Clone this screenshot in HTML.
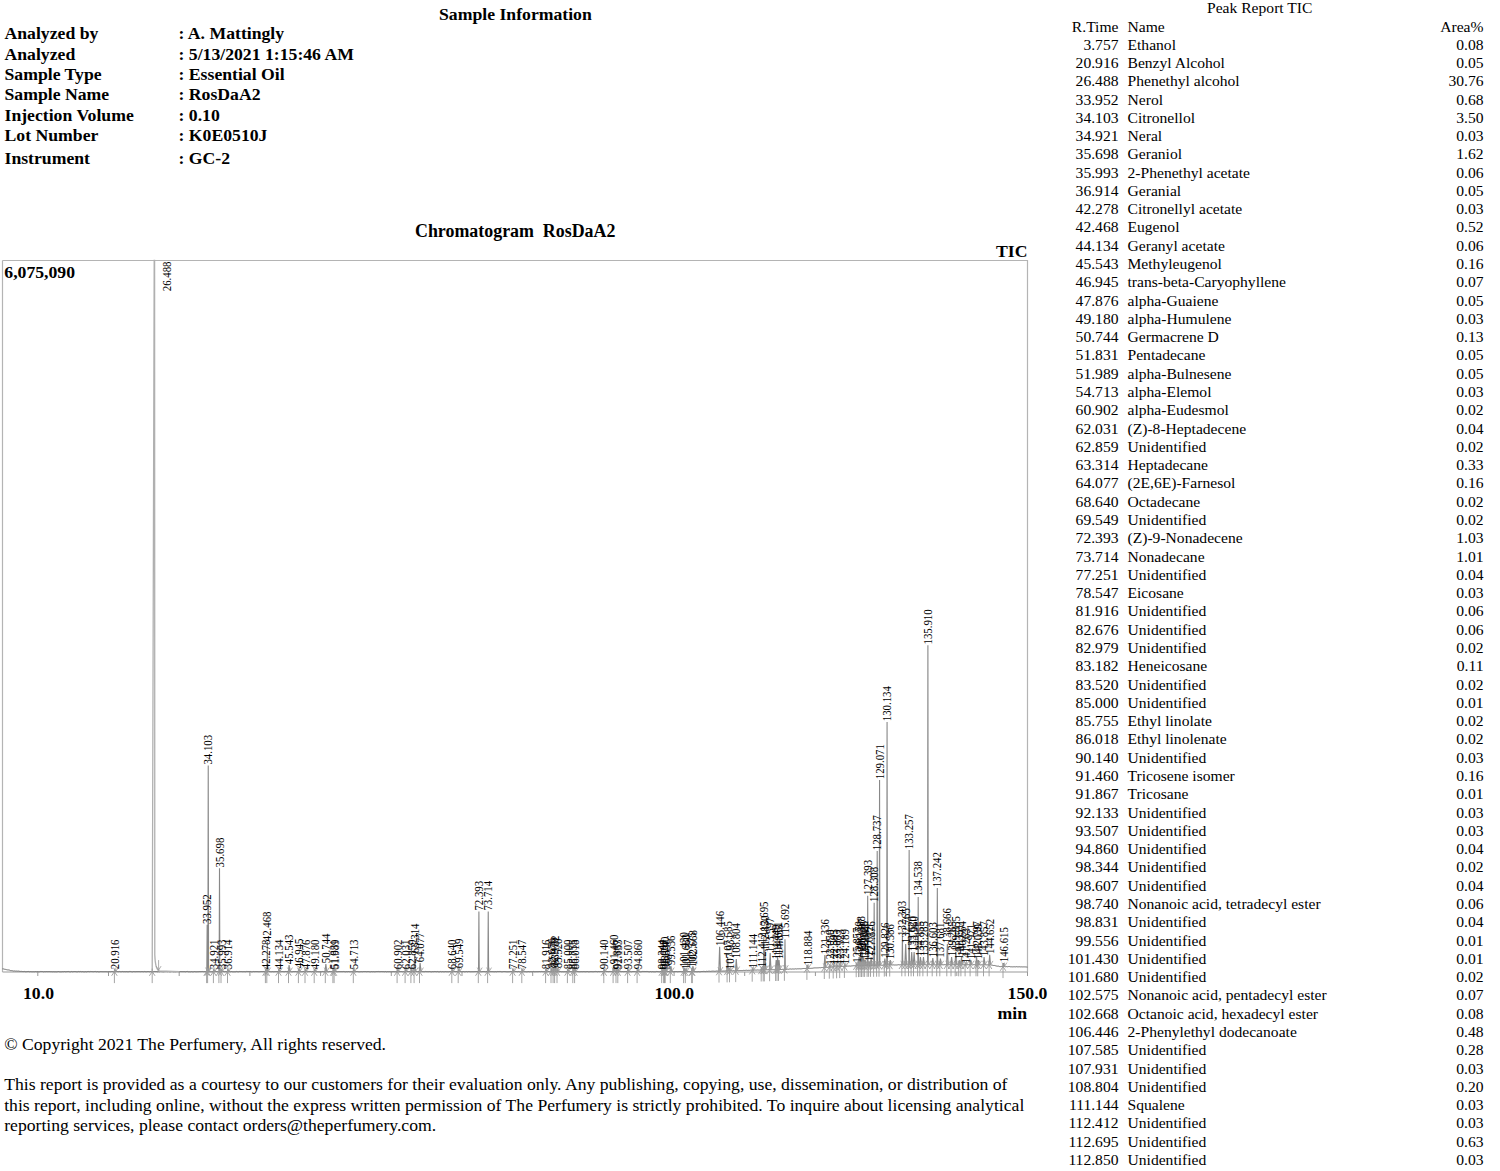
<!DOCTYPE html>
<html><head><meta charset="utf-8"><title>Report</title><style>
html,body{margin:0;padding:0;background:#fff;width:1500px;height:1171px;overflow:hidden}
svg{display:block}
.b{font-family:"Liberation Serif",serif;font-weight:bold;fill:#000}
.r{font-family:"Liberation Serif",serif;fill:#000}
.lb{font-family:"Liberation Serif",serif;font-size:12.0px;fill:#000;}
</style></head><body>
<svg width="1500" height="1171" viewBox="0 0 1500 1171">
<g class="b" font-size="17.7">
<text x="439" y="19.7">Sample Information</text>
<text x="4.5" y="39.3">Analyzed by</text>
<text x="178.5" y="39.3">: A. Mattingly</text>
<text x="4.5" y="59.7">Analyzed</text>
<text x="178.5" y="59.7">: 5/13/2021 1:15:46 AM</text>
<text x="4.5" y="80.0">Sample Type</text>
<text x="178.5" y="80.0">: Essential Oil</text>
<text x="4.5" y="100.4">Sample Name</text>
<text x="178.5" y="100.4">: RosDaA2</text>
<text x="4.5" y="120.7">Injection Volume</text>
<text x="178.5" y="120.7">: 0.10</text>
<text x="4.5" y="141.0">Lot Number</text>
<text x="178.5" y="141.0">: K0E0510J</text>
<text x="4.5" y="164.0">Instrument</text>
<text x="178.5" y="164.0">: GC-2</text>
</g>
<g class="r" font-size="15.6">
<text x="1207" y="13.3">Peak Report TIC</text>
<text x="1118.5" y="31.6" text-anchor="end">R.Time</text>
<text x="1127.5" y="31.6">Name</text>
<text x="1483.5" y="31.6" text-anchor="end">Area%</text>
<text x="1118.5" y="49.6" text-anchor="end">3.757</text>
<text x="1127.5" y="49.6">Ethanol</text>
<text x="1483.5" y="49.6" text-anchor="end">0.08</text>
<text x="1118.5" y="67.9" text-anchor="end">20.916</text>
<text x="1127.5" y="67.9">Benzyl Alcohol</text>
<text x="1483.5" y="67.9" text-anchor="end">0.05</text>
<text x="1118.5" y="86.2" text-anchor="end">26.488</text>
<text x="1127.5" y="86.2">Phenethyl alcohol</text>
<text x="1483.5" y="86.2" text-anchor="end">30.76</text>
<text x="1118.5" y="104.5" text-anchor="end">33.952</text>
<text x="1127.5" y="104.5">Nerol</text>
<text x="1483.5" y="104.5" text-anchor="end">0.68</text>
<text x="1118.5" y="122.7" text-anchor="end">34.103</text>
<text x="1127.5" y="122.7">Citronellol</text>
<text x="1483.5" y="122.7" text-anchor="end">3.50</text>
<text x="1118.5" y="141.0" text-anchor="end">34.921</text>
<text x="1127.5" y="141.0">Neral</text>
<text x="1483.5" y="141.0" text-anchor="end">0.03</text>
<text x="1118.5" y="159.3" text-anchor="end">35.698</text>
<text x="1127.5" y="159.3">Geraniol</text>
<text x="1483.5" y="159.3" text-anchor="end">1.62</text>
<text x="1118.5" y="177.6" text-anchor="end">35.993</text>
<text x="1127.5" y="177.6">2-Phenethyl acetate</text>
<text x="1483.5" y="177.6" text-anchor="end">0.06</text>
<text x="1118.5" y="195.9" text-anchor="end">36.914</text>
<text x="1127.5" y="195.9">Geranial</text>
<text x="1483.5" y="195.9" text-anchor="end">0.05</text>
<text x="1118.5" y="214.2" text-anchor="end">42.278</text>
<text x="1127.5" y="214.2">Citronellyl acetate</text>
<text x="1483.5" y="214.2" text-anchor="end">0.03</text>
<text x="1118.5" y="232.4" text-anchor="end">42.468</text>
<text x="1127.5" y="232.4">Eugenol</text>
<text x="1483.5" y="232.4" text-anchor="end">0.52</text>
<text x="1118.5" y="250.7" text-anchor="end">44.134</text>
<text x="1127.5" y="250.7">Geranyl acetate</text>
<text x="1483.5" y="250.7" text-anchor="end">0.06</text>
<text x="1118.5" y="269.0" text-anchor="end">45.543</text>
<text x="1127.5" y="269.0">Methyleugenol</text>
<text x="1483.5" y="269.0" text-anchor="end">0.16</text>
<text x="1118.5" y="287.3" text-anchor="end">46.945</text>
<text x="1127.5" y="287.3">trans-beta-Caryophyllene</text>
<text x="1483.5" y="287.3" text-anchor="end">0.07</text>
<text x="1118.5" y="305.6" text-anchor="end">47.876</text>
<text x="1127.5" y="305.6">alpha-Guaiene</text>
<text x="1483.5" y="305.6" text-anchor="end">0.05</text>
<text x="1118.5" y="323.9" text-anchor="end">49.180</text>
<text x="1127.5" y="323.9">alpha-Humulene</text>
<text x="1483.5" y="323.9" text-anchor="end">0.03</text>
<text x="1118.5" y="342.2" text-anchor="end">50.744</text>
<text x="1127.5" y="342.2">Germacrene D</text>
<text x="1483.5" y="342.2" text-anchor="end">0.13</text>
<text x="1118.5" y="360.4" text-anchor="end">51.831</text>
<text x="1127.5" y="360.4">Pentadecane</text>
<text x="1483.5" y="360.4" text-anchor="end">0.05</text>
<text x="1118.5" y="378.7" text-anchor="end">51.989</text>
<text x="1127.5" y="378.7">alpha-Bulnesene</text>
<text x="1483.5" y="378.7" text-anchor="end">0.05</text>
<text x="1118.5" y="397.0" text-anchor="end">54.713</text>
<text x="1127.5" y="397.0">alpha-Elemol</text>
<text x="1483.5" y="397.0" text-anchor="end">0.03</text>
<text x="1118.5" y="415.3" text-anchor="end">60.902</text>
<text x="1127.5" y="415.3">alpha-Eudesmol</text>
<text x="1483.5" y="415.3" text-anchor="end">0.02</text>
<text x="1118.5" y="433.6" text-anchor="end">62.031</text>
<text x="1127.5" y="433.6">(Z)-8-Heptadecene</text>
<text x="1483.5" y="433.6" text-anchor="end">0.04</text>
<text x="1118.5" y="451.9" text-anchor="end">62.859</text>
<text x="1127.5" y="451.9">Unidentified</text>
<text x="1483.5" y="451.9" text-anchor="end">0.02</text>
<text x="1118.5" y="470.2" text-anchor="end">63.314</text>
<text x="1127.5" y="470.2">Heptadecane</text>
<text x="1483.5" y="470.2" text-anchor="end">0.33</text>
<text x="1118.5" y="488.4" text-anchor="end">64.077</text>
<text x="1127.5" y="488.4">(2E,6E)-Farnesol</text>
<text x="1483.5" y="488.4" text-anchor="end">0.16</text>
<text x="1118.5" y="506.7" text-anchor="end">68.640</text>
<text x="1127.5" y="506.7">Octadecane</text>
<text x="1483.5" y="506.7" text-anchor="end">0.02</text>
<text x="1118.5" y="525.0" text-anchor="end">69.549</text>
<text x="1127.5" y="525.0">Unidentified</text>
<text x="1483.5" y="525.0" text-anchor="end">0.02</text>
<text x="1118.5" y="543.3" text-anchor="end">72.393</text>
<text x="1127.5" y="543.3">(Z)-9-Nonadecene</text>
<text x="1483.5" y="543.3" text-anchor="end">1.03</text>
<text x="1118.5" y="561.6" text-anchor="end">73.714</text>
<text x="1127.5" y="561.6">Nonadecane</text>
<text x="1483.5" y="561.6" text-anchor="end">1.01</text>
<text x="1118.5" y="579.9" text-anchor="end">77.251</text>
<text x="1127.5" y="579.9">Unidentified</text>
<text x="1483.5" y="579.9" text-anchor="end">0.04</text>
<text x="1118.5" y="598.1" text-anchor="end">78.547</text>
<text x="1127.5" y="598.1">Eicosane</text>
<text x="1483.5" y="598.1" text-anchor="end">0.03</text>
<text x="1118.5" y="616.4" text-anchor="end">81.916</text>
<text x="1127.5" y="616.4">Unidentified</text>
<text x="1483.5" y="616.4" text-anchor="end">0.06</text>
<text x="1118.5" y="634.7" text-anchor="end">82.676</text>
<text x="1127.5" y="634.7">Unidentified</text>
<text x="1483.5" y="634.7" text-anchor="end">0.06</text>
<text x="1118.5" y="653.0" text-anchor="end">82.979</text>
<text x="1127.5" y="653.0">Unidentified</text>
<text x="1483.5" y="653.0" text-anchor="end">0.02</text>
<text x="1118.5" y="671.3" text-anchor="end">83.182</text>
<text x="1127.5" y="671.3">Heneicosane</text>
<text x="1483.5" y="671.3" text-anchor="end">0.11</text>
<text x="1118.5" y="689.6" text-anchor="end">83.520</text>
<text x="1127.5" y="689.6">Unidentified</text>
<text x="1483.5" y="689.6" text-anchor="end">0.02</text>
<text x="1118.5" y="707.9" text-anchor="end">85.000</text>
<text x="1127.5" y="707.9">Unidentified</text>
<text x="1483.5" y="707.9" text-anchor="end">0.01</text>
<text x="1118.5" y="726.1" text-anchor="end">85.755</text>
<text x="1127.5" y="726.1">Ethyl linolate</text>
<text x="1483.5" y="726.1" text-anchor="end">0.02</text>
<text x="1118.5" y="744.4" text-anchor="end">86.018</text>
<text x="1127.5" y="744.4">Ethyl linolenate</text>
<text x="1483.5" y="744.4" text-anchor="end">0.02</text>
<text x="1118.5" y="762.7" text-anchor="end">90.140</text>
<text x="1127.5" y="762.7">Unidentified</text>
<text x="1483.5" y="762.7" text-anchor="end">0.03</text>
<text x="1118.5" y="781.0" text-anchor="end">91.460</text>
<text x="1127.5" y="781.0">Tricosene isomer</text>
<text x="1483.5" y="781.0" text-anchor="end">0.16</text>
<text x="1118.5" y="799.3" text-anchor="end">91.867</text>
<text x="1127.5" y="799.3">Tricosane</text>
<text x="1483.5" y="799.3" text-anchor="end">0.01</text>
<text x="1118.5" y="817.6" text-anchor="end">92.133</text>
<text x="1127.5" y="817.6">Unidentified</text>
<text x="1483.5" y="817.6" text-anchor="end">0.03</text>
<text x="1118.5" y="835.9" text-anchor="end">93.507</text>
<text x="1127.5" y="835.9">Unidentified</text>
<text x="1483.5" y="835.9" text-anchor="end">0.03</text>
<text x="1118.5" y="854.1" text-anchor="end">94.860</text>
<text x="1127.5" y="854.1">Unidentified</text>
<text x="1483.5" y="854.1" text-anchor="end">0.04</text>
<text x="1118.5" y="872.4" text-anchor="end">98.344</text>
<text x="1127.5" y="872.4">Unidentified</text>
<text x="1483.5" y="872.4" text-anchor="end">0.02</text>
<text x="1118.5" y="890.7" text-anchor="end">98.607</text>
<text x="1127.5" y="890.7">Unidentified</text>
<text x="1483.5" y="890.7" text-anchor="end">0.04</text>
<text x="1118.5" y="909.0" text-anchor="end">98.740</text>
<text x="1127.5" y="909.0">Nonanoic acid, tetradecyl ester</text>
<text x="1483.5" y="909.0" text-anchor="end">0.06</text>
<text x="1118.5" y="927.3" text-anchor="end">98.831</text>
<text x="1127.5" y="927.3">Unidentified</text>
<text x="1483.5" y="927.3" text-anchor="end">0.04</text>
<text x="1118.5" y="945.6" text-anchor="end">99.556</text>
<text x="1127.5" y="945.6">Unidentified</text>
<text x="1483.5" y="945.6" text-anchor="end">0.01</text>
<text x="1118.5" y="963.9" text-anchor="end">101.430</text>
<text x="1127.5" y="963.9">Unidentified</text>
<text x="1483.5" y="963.9" text-anchor="end">0.01</text>
<text x="1118.5" y="982.1" text-anchor="end">101.680</text>
<text x="1127.5" y="982.1">Unidentified</text>
<text x="1483.5" y="982.1" text-anchor="end">0.02</text>
<text x="1118.5" y="1000.4" text-anchor="end">102.575</text>
<text x="1127.5" y="1000.4">Nonanoic acid, pentadecyl ester</text>
<text x="1483.5" y="1000.4" text-anchor="end">0.07</text>
<text x="1118.5" y="1018.7" text-anchor="end">102.668</text>
<text x="1127.5" y="1018.7">Octanoic acid, hexadecyl ester</text>
<text x="1483.5" y="1018.7" text-anchor="end">0.08</text>
<text x="1118.5" y="1037.0" text-anchor="end">106.446</text>
<text x="1127.5" y="1037.0">2-Phenylethyl dodecanoate</text>
<text x="1483.5" y="1037.0" text-anchor="end">0.48</text>
<text x="1118.5" y="1055.3" text-anchor="end">107.585</text>
<text x="1127.5" y="1055.3">Unidentified</text>
<text x="1483.5" y="1055.3" text-anchor="end">0.28</text>
<text x="1118.5" y="1073.6" text-anchor="end">107.931</text>
<text x="1127.5" y="1073.6">Unidentified</text>
<text x="1483.5" y="1073.6" text-anchor="end">0.03</text>
<text x="1118.5" y="1091.8" text-anchor="end">108.804</text>
<text x="1127.5" y="1091.8">Unidentified</text>
<text x="1483.5" y="1091.8" text-anchor="end">0.20</text>
<text x="1118.5" y="1110.1" text-anchor="end">111.144</text>
<text x="1127.5" y="1110.1">Squalene</text>
<text x="1483.5" y="1110.1" text-anchor="end">0.03</text>
<text x="1118.5" y="1128.4" text-anchor="end">112.412</text>
<text x="1127.5" y="1128.4">Unidentified</text>
<text x="1483.5" y="1128.4" text-anchor="end">0.03</text>
<text x="1118.5" y="1146.7" text-anchor="end">112.695</text>
<text x="1127.5" y="1146.7">Unidentified</text>
<text x="1483.5" y="1146.7" text-anchor="end">0.63</text>
<text x="1118.5" y="1165.0" text-anchor="end">112.850</text>
<text x="1127.5" y="1165.0">Unidentified</text>
<text x="1483.5" y="1165.0" text-anchor="end">0.03</text>
</g>
<g class="b" font-size="17.7">
<text x="415" y="236.7" font-size="17.9" style="white-space:pre">Chromatogram  RosDaA2</text>
<text x="996" y="257">TIC</text>
<text x="4.3" y="278.3">6,075,090</text>
<text x="38.5" y="998.7" text-anchor="middle">10.0</text>
<text x="674.3" y="998.7" text-anchor="middle">100.0</text>
<text x="1027.5" y="998.7" text-anchor="middle">150.0</text>
<text x="1027" y="1018.7" text-anchor="end">min</text>
</g>
<g class="r" font-size="17.65">
<text x="4.2" y="1050">© Copyright 2021 The Perfumery, All rights reserved.</text>
<text x="4.2" y="1090">This report is provided as a courtesy to our customers for their evaluation only. Any publishing, copying, use, dissemination, or distribution of</text>
<text x="4.2" y="1110.6">this report, including online, without the express written permission of The Perfumery is strictly prohibited. To inquire about licensing analytical</text>
<text x="4.2" y="1130.8">reporting services, please contact orders@theperfumery.com.</text>
</g>
<path d="M2.5 972.0 V260.5 M2.5 260.5 H1027.5 V972.0" fill="none" stroke="#b4b4b4" stroke-width="1.2"/>
<path d="M2.5 972.0 H1027.5" stroke="#9a9a9a" stroke-width="1.2"/>
<path d="M37.8 972.0 V976.0 M108.5 972.0 V976.0 M179.2 972.0 V976.0 M249.9 972.0 V976.0 M320.6 972.0 V976.0 M391.3 972.0 V976.0 M462.0 972.0 V976.0 M532.7 972.0 V976.0 M603.4 972.0 V976.0 M674.1 972.0 V976.0 M744.7 972.0 V976.0 M815.4 972.0 V976.0 M886.1 972.0 V976.0 M956.8 972.0 V976.0 M1027.5 972.0 V976.0" stroke="#999" stroke-width="1"/>
<path d="M2.5 968.80 L3.5 968.93 L4.5 969.23 L5.5 969.39 L6.5 969.67 L7.5 969.89 L8.5 969.93 L9.5 970.13 L10.5 970.59 L11.5 970.62 L12.5 970.75 L13.5 971.04 L14.5 970.94 L15.5 971.12 L16.5 971.07 L17.5 971.18 L18.5 971.10 L19.5 971.30 L20.5 971.43 L21.5 971.39 L22.5 971.52 L23.5 971.56 L24.5 971.44 L25.5 971.68 L26.5 971.63 L27.5 971.54 L28.5 971.46 L29.5 971.71 L30.5 971.59 L31.5 971.67 L32.5 971.71 L33.5 971.66 L34.5 971.73 L35.5 971.57 L36.5 971.69 L37.5 971.58 L38.5 971.73 L39.5 971.71 L40.5 971.48 L41.5 971.49 L42.5 971.52 L43.5 971.74 L44.5 971.58 L45.5 971.64 L46.5 971.54 L47.5 971.60 L48.5 971.57 L49.5 971.56 L50.5 971.63 L51.5 971.63 L52.5 971.72 L53.5 971.65 L54.5 971.73 L55.5 971.71 L56.5 971.75 L57.5 971.65 L58.5 971.50 L59.5 971.71 L60.5 971.74 L61.5 971.72 L62.5 971.62 L63.5 971.66 L64.5 971.51 L65.5 971.70 L66.5 971.62 L67.5 971.54 L68.5 971.47 L69.5 971.71 L70.5 971.75 L71.5 971.48 L72.5 971.69 L73.5 971.57 L74.5 971.50 L75.5 971.54 L76.5 971.68 L77.5 971.71 L78.5 971.46 L79.5 971.63 L80.5 971.46 L81.5 971.67 L82.5 971.55 L83.5 971.71 L84.5 971.74 L85.5 971.60 L86.5 971.75 L87.5 971.54 L88.5 971.47 L89.5 971.63 L90.5 971.46 L91.5 971.51 L92.5 971.57 L93.5 971.63 L94.5 971.50 L95.5 971.46 L96.5 971.71 L97.5 971.54 L98.5 971.74 L99.5 971.72 L100.5 971.56 L101.5 971.59 L102.5 971.61 L103.5 971.64 L104.5 971.63 L105.5 971.62 L106.5 971.64 L107.5 971.73 L108.5 971.60 L109.5 971.58 L110.5 971.67 L111.5 971.52 L112.5 971.54 L113.5 971.74 L114.5 971.61 L115.5 971.61 L116.5 971.45 L117.5 971.57 L118.5 971.62 L119.5 971.46 L120.5 971.63 L121.5 971.64 L122.5 971.47 L123.5 971.64 L124.5 971.59 L125.5 971.65 L126.5 971.56 L127.5 971.66 L128.5 971.67 L129.5 971.46 L130.5 971.47 L131.5 971.65 L132.5 971.74 L133.5 971.53 L134.5 971.59 L135.5 971.63 L136.5 971.55 L137.5 971.56 L138.5 971.54 L139.5 971.56 L140.5 971.63 L141.5 971.54 L142.5 971.56 L143.5 971.68 L144.5 971.46 L145.5 971.62 L146.5 971.67 L147.5 971.54 L148.5 971.52 L149.5 971.69 L150.5 971.52 L151.5 971.51 L152.5 971.58 L153.5 971.66 L154.5 971.48 L155.5 971.55 L156.5 971.55 L157.5 971.70 L158.5 971.58 L159.5 971.71 L160.5 971.50 L161.5 971.55 L162.5 971.65 L163.5 971.72 L164.5 971.59 L165.5 971.52 L166.5 971.49 L167.5 971.61 L168.5 971.51 L169.5 971.69 L170.5 971.70 L171.5 971.51 L172.5 971.53 L173.5 971.69 L174.5 971.64 L175.5 971.69 L176.5 971.55 L177.5 971.49 L178.5 971.54 L179.5 971.69 L180.5 971.53 L181.5 971.55 L182.5 971.58 L183.5 971.58 L184.5 971.57 L185.5 971.73 L186.5 971.50 L187.5 971.45 L188.5 971.73 L189.5 971.71 L190.5 971.75 L191.5 971.58 L192.5 971.74 L193.5 971.73 L194.5 971.52 L195.5 971.67 L196.5 971.70 L197.5 971.65 L198.5 971.61 L199.5 971.54 L200.5 971.55 L201.5 971.52 L202.5 971.47 L203.5 971.63 L204.5 971.54 L205.5 971.69 L206.5 971.46 L207.5 971.72 L208.5 971.66 L209.5 971.73 L210.5 971.72 L211.5 971.72 L212.5 971.62 L213.5 971.45 L214.5 971.67 L215.5 971.50 L216.5 971.54 L217.5 971.65 L218.5 971.61 L219.5 971.57 L220.5 971.73 L221.5 971.63 L222.5 971.55 L223.5 971.53 L224.5 971.71 L225.5 971.59 L226.5 971.68 L227.5 971.56 L228.5 971.51 L229.5 971.61 L230.5 971.70 L231.5 971.50 L232.5 971.69 L233.5 971.73 L234.5 971.69 L235.5 971.70 L236.5 971.45 L237.5 971.64 L238.5 971.71 L239.5 971.46 L240.5 971.53 L241.5 971.53 L242.5 971.61 L243.5 971.58 L244.5 971.59 L245.5 971.68 L246.5 971.45 L247.5 971.47 L248.5 971.49 L249.5 971.49 L250.5 971.47 L251.5 971.74 L252.5 971.71 L253.5 971.48 L254.5 971.60 L255.5 971.54 L256.5 971.54 L257.5 971.56 L258.5 971.64 L259.5 971.63 L260.5 971.56 L261.5 971.51 L262.5 971.55 L263.5 971.49 L264.5 971.62 L265.5 971.66 L266.5 971.56 L267.5 971.47 L268.5 971.50 L269.5 971.56 L270.5 971.63 L271.5 971.68 L272.5 971.56 L273.5 971.69 L274.5 971.64 L275.5 971.58 L276.5 971.56 L277.5 971.60 L278.5 971.66 L279.5 971.58 L280.5 971.66 L281.5 971.59 L282.5 971.52 L283.5 971.61 L284.5 971.66 L285.5 971.47 L286.5 971.58 L287.5 971.58 L288.5 971.71 L289.5 971.73 L290.5 971.56 L291.5 971.72 L292.5 971.69 L293.5 971.53 L294.5 971.59 L295.5 971.49 L296.5 971.69 L297.5 971.65 L298.5 971.72 L299.5 971.69 L300.5 971.65 L301.5 971.67 L302.5 971.62 L303.5 971.48 L304.5 971.63 L305.5 971.45 L306.5 971.49 L307.5 971.68 L308.5 971.46 L309.5 971.48 L310.5 971.48 L311.5 971.71 L312.5 971.50 L313.5 971.46 L314.5 971.70 L315.5 971.49 L316.5 971.70 L317.5 971.65 L318.5 971.70 L319.5 971.74 L320.5 971.62 L321.5 971.69 L322.5 971.46 L323.5 971.68 L324.5 971.60 L325.5 971.66 L326.5 971.48 L327.5 971.67 L328.5 971.73 L329.5 971.47 L330.5 971.55 L331.5 971.62 L332.5 971.70 L333.5 971.52 L334.5 971.50 L335.5 971.52 L336.5 971.63 L337.5 971.68 L338.5 971.57 L339.5 971.56 L340.5 971.57 L341.5 971.56 L342.5 971.58 L343.5 971.47 L344.5 971.60 L345.5 971.74 L346.5 971.57 L347.5 971.67 L348.5 971.50 L349.5 971.66 L350.5 971.68 L351.5 971.65 L352.5 971.61 L353.5 971.60 L354.5 971.64 L355.5 971.72 L356.5 971.49 L357.5 971.48 L358.5 971.67 L359.5 971.72 L360.5 971.61 L361.5 971.58 L362.5 971.67 L363.5 971.51 L364.5 971.53 L365.5 971.51 L366.5 971.63 L367.5 971.54 L368.5 971.52 L369.5 971.66 L370.5 971.74 L371.5 971.54 L372.5 971.66 L373.5 971.57 L374.5 971.71 L375.5 971.63 L376.5 971.53 L377.5 971.52 L378.5 971.46 L379.5 971.59 L380.5 971.56 L381.5 971.50 L382.5 971.56 L383.5 971.55 L384.5 971.68 L385.5 971.49 L386.5 971.75 L387.5 971.59 L388.5 971.63 L389.5 971.59 L390.5 971.70 L391.5 971.70 L392.5 971.62 L393.5 971.59 L394.5 971.67 L395.5 971.71 L396.5 971.57 L397.5 971.67 L398.5 971.74 L399.5 971.59 L400.5 971.52 L401.5 971.52 L402.5 971.67 L403.5 971.65 L404.5 971.74 L405.5 971.71 L406.5 971.52 L407.5 971.51 L408.5 971.53 L409.5 971.51 L410.5 971.66 L411.5 971.71 L412.5 971.72 L413.5 971.53 L414.5 971.71 L415.5 971.54 L416.5 971.58 L417.5 971.67 L418.5 971.48 L419.5 971.48 L420.5 971.70 L421.5 971.54 L422.5 971.56 L423.5 971.62 L424.5 971.65 L425.5 971.45 L426.5 971.55 L427.5 971.58 L428.5 971.60 L429.5 971.51 L430.5 971.63 L431.5 971.74 L432.5 971.57 L433.5 971.61 L434.5 971.49 L435.5 971.53 L436.5 971.65 L437.5 971.48 L438.5 971.72 L439.5 971.72 L440.5 971.48 L441.5 971.73 L442.5 971.56 L443.5 971.68 L444.5 971.68 L445.5 971.54 L446.5 971.65 L447.5 971.65 L448.5 971.69 L449.5 971.53 L450.5 971.68 L451.5 971.74 L452.5 971.65 L453.5 971.61 L454.5 971.48 L455.5 971.60 L456.5 971.56 L457.5 971.67 L458.5 971.65 L459.5 971.62 L460.5 971.50 L461.5 971.64 L462.5 971.64 L463.5 971.50 L464.5 971.72 L465.5 971.65 L466.5 971.49 L467.5 971.73 L468.5 971.49 L469.5 971.55 L470.5 971.67 L471.5 971.63 L472.5 971.62 L473.5 971.64 L474.5 971.59 L475.5 971.54 L476.5 971.50 L477.5 971.47 L478.5 971.66 L479.5 971.68 L480.5 971.61 L481.5 971.67 L482.5 971.56 L483.5 971.53 L484.5 971.57 L485.5 971.71 L486.5 971.46 L487.5 971.60 L488.5 971.52 L489.5 971.68 L490.5 971.56 L491.5 971.55 L492.5 971.57 L493.5 971.61 L494.5 971.68 L495.5 971.56 L496.5 971.70 L497.5 971.48 L498.5 971.53 L499.5 971.48 L500.5 971.48 L501.5 971.68 L502.5 971.67 L503.5 971.51 L504.5 971.51 L505.5 971.57 L506.5 971.67 L507.5 971.69 L508.5 971.67 L509.5 971.63 L510.5 971.49 L511.5 971.57 L512.5 971.51 L513.5 971.61 L514.5 971.62 L515.5 971.51 L516.5 971.53 L517.5 971.68 L518.5 971.46 L519.5 971.69 L520.5 971.72 L521.5 971.73 L522.5 971.56 L523.5 971.62 L524.5 971.62 L525.5 971.64 L526.5 971.74 L527.5 971.66 L528.5 971.54 L529.5 971.71 L530.5 971.60 L531.5 971.63 L532.5 971.67 L533.5 971.45 L534.5 971.68 L535.5 971.65 L536.5 971.60 L537.5 971.61 L538.5 971.59 L539.5 971.51 L540.5 971.61 L541.5 971.46 L542.5 971.60 L543.5 971.64 L544.5 971.58 L545.5 971.62 L546.5 971.74 L547.5 971.72 L548.5 971.49 L549.5 971.69 L550.5 971.64 L551.5 971.47 L552.5 971.56 L553.5 971.52 L554.5 971.47 L555.5 971.61 L556.5 971.73 L557.5 971.55 L558.5 971.71 L559.5 971.66 L560.5 971.49 L561.5 971.71 L562.5 971.63 L563.5 971.73 L564.5 971.66 L565.5 971.67 L566.5 971.55 L567.5 971.69 L568.5 971.73 L569.5 971.71 L570.5 971.58 L571.5 971.68 L572.5 971.60 L573.5 971.48 L574.5 971.46 L575.5 971.47 L576.5 971.51 L577.5 971.50 L578.5 971.60 L579.5 971.66 L580.5 971.61 L581.5 971.58 L582.5 971.64 L583.5 971.54 L584.5 971.59 L585.5 971.68 L586.5 971.57 L587.5 971.50 L588.5 971.72 L589.5 971.67 L590.5 971.56 L591.5 971.56 L592.5 971.61 L593.5 971.63 L594.5 971.52 L595.5 971.45 L596.5 971.51 L597.5 971.68 L598.5 971.49 L599.5 971.59 L600.5 971.51 L601.5 971.51 L602.5 971.50 L603.5 971.57 L604.5 971.50 L605.5 971.46 L606.5 971.48 L607.5 971.50 L608.5 971.60 L609.5 971.47 L610.5 971.46 L611.5 971.58 L612.5 971.57 L613.5 971.66 L614.5 971.47 L615.5 971.57 L616.5 971.57 L617.5 971.46 L618.5 971.74 L619.5 971.52 L620.5 971.48 L621.5 971.59 L622.5 971.50 L623.5 971.64 L624.5 971.55 L625.5 971.49 L626.5 971.47 L627.5 971.67 L628.5 971.53 L629.5 971.69 L630.5 971.59 L631.5 971.73 L632.5 971.54 L633.5 971.52 L634.5 971.53 L635.5 971.69 L636.5 971.64 L637.5 971.55 L638.5 971.48 L639.5 971.65 L640.5 971.74 L641.5 971.63 L642.5 971.45 L643.5 971.46 L644.5 971.48 L645.5 971.50 L646.5 971.46 L647.5 971.47 L648.5 971.65 L649.5 971.72 L650.5 971.51 L651.5 971.74 L652.5 971.59 L653.5 971.69 L654.5 971.73 L655.5 971.73 L656.5 971.46 L657.5 971.54 L658.5 971.63 L659.5 971.73 L660.5 971.48 L661.5 971.54 L662.5 971.70 L663.5 971.48 L664.5 971.57 L665.5 971.55 L666.5 971.65 L667.5 971.73 L668.5 971.50 L669.5 971.67 L670.5 971.67 L671.5 971.70 L672.5 971.62 L673.5 971.73 L674.5 971.56 L675.5 971.57 L676.5 971.52 L677.5 971.68 L678.5 971.59 L679.5 971.53 L680.5 971.50 L681.5 971.67 L682.5 971.63 L683.5 971.66 L684.5 971.57 L685.5 971.60 L686.5 971.50 L687.5 971.66 L688.5 971.46 L689.5 971.59 L690.5 971.68 L691.5 971.65 L692.5 971.48 L693.5 971.52 L694.5 971.70 L695.5 971.64 L696.5 971.71 L697.5 971.71 L698.5 971.58 L699.5 971.72 L700.5 971.66 L701.5 971.51 L702.5 971.49 L703.5 971.38 L704.5 971.45 L705.5 971.59 L706.5 971.31 L707.5 971.42 L708.5 971.26 L709.5 971.22 L710.5 971.36 L711.5 971.22 L712.5 971.13 L713.5 971.14 L714.5 971.26 L715.5 971.21 L716.5 971.01 L717.5 971.05 L718.5 971.25 L719.5 971.00 L720.5 971.07 L721.5 971.00 L722.5 971.08 L723.5 971.00 L724.5 971.03 L725.5 970.93 L726.5 970.80 L727.5 970.77 L728.5 970.71 L729.5 970.91 L730.5 970.67 L731.5 970.62 L732.5 970.87 L733.5 970.62 L734.5 970.80 L735.5 970.53 L736.5 970.62 L737.5 970.52 L738.5 970.67 L739.5 970.58 L740.5 970.56 L741.5 970.57 L742.5 970.58 L743.5 970.39 L744.5 970.44 L745.5 970.37 L746.5 970.24 L747.5 970.43 L748.5 970.33 L749.5 970.37 L750.5 970.17 L751.5 970.24 L752.5 970.19 L753.5 970.24 L754.5 970.02 L755.5 970.07 L756.5 970.09 L757.5 969.94 L758.5 970.06 L759.5 970.08 L760.5 969.96 L761.5 970.00 L762.5 969.96 L763.5 969.81 L764.5 969.82 L765.5 969.98 L766.5 969.76 L767.5 969.75 L768.5 969.62 L769.5 969.63 L770.5 969.58 L771.5 969.78 L772.5 969.69 L773.5 969.71 L774.5 969.71 L775.5 969.57 L776.5 969.63 L777.5 969.49 L778.5 969.42 L779.5 969.55 L780.5 969.51 L781.5 969.49 L782.5 969.32 L783.5 969.38 L784.5 969.24 L785.5 969.38 L786.5 969.33 L787.5 969.11 L788.5 969.28 L789.5 969.02 L790.5 968.96 L791.5 969.12 L792.5 968.96 L793.5 969.00 L794.5 969.01 L795.5 968.80 L796.5 968.98 L797.5 968.81 L798.5 968.82 L799.5 968.77 L800.5 968.85 L801.5 968.79 L802.5 968.60 L803.5 968.49 L804.5 968.49 L805.5 968.47 L806.5 968.32 L807.5 968.28 L808.5 968.41 L809.5 968.34 L810.5 968.37 L811.5 968.31 L812.5 968.23 L813.5 968.02 L814.5 967.90 L815.5 967.89 L816.5 967.88 L817.5 967.85 L818.5 967.80 L819.5 967.69 L820.5 967.78 L821.5 967.55 L822.5 967.55 L823.5 967.62 L824.5 967.54 L825.5 967.34 L826.5 967.27 L827.5 967.38 L828.5 967.09 L829.5 967.07 L830.5 967.13 L831.5 967.08 L832.5 966.91 L833.5 966.82 L834.5 966.81 L835.5 966.93 L836.5 966.78 L837.5 966.88 L838.5 966.77 L839.5 966.77 L840.5 966.43 L841.5 966.42 L842.5 966.32 L843.5 966.39 L844.5 966.30 L845.5 966.16 L846.5 966.26 L847.5 966.07 L848.5 966.08 L849.5 966.00 L850.5 966.11 L851.5 965.94 L852.5 965.84 L853.5 965.72 L854.5 965.78 L855.5 965.79 L856.5 965.75 L857.5 965.76 L858.5 965.68 L859.5 965.45 L860.5 965.38 L861.5 965.55 L862.5 965.54 L863.5 965.44 L864.5 965.52 L865.5 965.42 L866.5 965.32 L867.5 965.27 L868.5 965.21 L869.5 965.38 L870.5 965.44 L871.5 965.42 L872.5 965.27 L873.5 965.31 L874.5 965.37 L875.5 965.32 L876.5 965.24 L877.5 965.17 L878.5 965.18 L879.5 965.06 L880.5 965.05 L881.5 965.18 L882.5 965.25 L883.5 965.10 L884.5 965.04 L885.5 965.01 L886.5 965.02 L887.5 965.11 L888.5 964.99 L889.5 965.12 L890.5 964.86 L891.5 964.89 L892.5 964.94 L893.5 964.89 L894.5 965.00 L895.5 964.98 L896.5 964.99 L897.5 964.88 L898.5 964.69 L899.5 964.83 L900.5 964.81 L901.5 964.80 L902.5 964.73 L903.5 964.86 L904.5 964.92 L905.5 964.68 L906.5 964.85 L907.5 964.76 L908.5 964.80 L909.5 964.92 L910.5 964.94 L911.5 964.84 L912.5 964.71 L913.5 964.93 L914.5 964.70 L915.5 964.76 L916.5 964.90 L917.5 964.74 L918.5 964.73 L919.5 964.93 L920.5 964.93 L921.5 964.75 L922.5 964.77 L923.5 964.73 L924.5 964.69 L925.5 964.73 L926.5 964.94 L927.5 964.67 L928.5 964.72 L929.5 964.71 L930.5 964.67 L931.5 964.81 L932.5 964.87 L933.5 964.90 L934.5 964.84 L935.5 964.90 L936.5 964.65 L937.5 964.73 L938.5 964.94 L939.5 964.67 L940.5 964.73 L941.5 964.79 L942.5 964.73 L943.5 964.81 L944.5 964.66 L945.5 964.72 L946.5 964.94 L947.5 964.69 L948.5 964.92 L949.5 964.70 L950.5 964.95 L951.5 964.85 L952.5 964.84 L953.5 964.69 L954.5 964.67 L955.5 964.88 L956.5 964.70 L957.5 964.71 L958.5 964.90 L959.5 964.91 L960.5 964.66 L961.5 964.94 L962.5 964.81 L963.5 964.76 L964.5 964.68 L965.5 964.77 L966.5 964.95 L967.5 964.73 L968.5 964.69 L969.5 964.69 L970.5 964.69 L971.5 964.76 L972.5 964.92 L973.5 964.67 L974.5 964.71 L975.5 964.93 L976.5 964.95 L977.5 964.94 L978.5 964.72 L979.5 964.76 L980.5 964.94 L981.5 964.80 L982.5 964.86 L983.5 964.74 L984.5 964.66 L985.5 964.75 L986.5 964.87 L987.5 964.88 L988.5 964.82 L989.5 964.79 L990.5 964.90 L991.5 965.04 L992.5 965.24 L993.5 965.49 L994.5 965.48 L995.5 965.76 L996.5 966.03 L997.5 966.18 L998.5 966.15 L999.5 966.55 L1000.5 966.61 L1001.5 966.43 L1002.5 966.48 L1003.5 966.47 L1004.5 966.45 L1005.5 966.74 L1006.5 966.59 L1007.5 966.75 L1008.5 966.54 L1009.5 966.53 L1010.5 966.80 L1011.5 966.80 L1012.5 966.87 L1013.5 966.80 L1014.5 966.77 L1015.5 966.86 L1016.5 966.68 L1017.5 966.83 L1018.5 966.82 L1019.5 966.75 L1020.5 966.90 L1021.5 966.84 L1022.5 966.91 L1023.5 966.89 L1024.5 966.89 L1025.5 966.92 L1026.5 967.01 L1027.5 967.14" fill="none" stroke="#6a6a6a" stroke-width="1"/>
<path d="M114.21 971.6 L115.01 970.0 L115.81 971.6 M206.81 971.6 L207.16 924.8 L207.51 971.6 M207.88 971.6 L208.23 765.4 L208.58 971.6 M213.21 971.6 L214.01 970.0 L214.81 971.6 M219.15 971.6 L219.50 868.2 L219.85 971.6 M220.79 971.6 L221.59 970.0 L222.39 971.6 M227.30 971.6 L228.10 970.0 L228.90 971.6 M265.22 971.6 L266.02 970.0 L266.82 971.6 M267.01 971.6 L267.36 942.0 L267.71 971.6 M278.34 971.6 L279.14 970.0 L279.94 971.6 M288.30 971.6 L289.10 965.0 L289.90 971.6 M298.21 971.6 L299.01 969.0 L299.81 971.6 M304.79 971.6 L305.59 970.0 L306.39 971.6 M314.01 971.6 L314.81 970.0 L315.61 971.6 M325.06 971.6 L325.86 964.0 L326.66 971.6 M332.75 971.6 L333.55 970.0 L334.35 971.6 M333.87 971.6 L334.67 970.0 L335.47 971.6 M353.12 971.6 L353.92 970.0 L354.72 971.6 M396.87 971.6 L397.67 970.0 L398.47 971.6 M404.85 971.6 L405.65 970.0 L406.45 971.6 M410.71 971.6 L411.51 970.0 L412.31 971.6 M413.92 971.6 L414.72 954.0 L415.52 971.6 M419.32 971.6 L420.12 963.0 L420.92 971.6 M451.57 971.6 L452.37 970.0 L453.17 971.6 M458.00 971.6 L458.80 969.0 L459.60 971.6 M478.55 971.6 L478.90 911.4 L479.25 971.6 M487.89 971.6 L488.24 911.4 L488.59 971.6 M512.44 971.6 L513.24 970.0 L514.04 971.6 M521.60 971.6 L522.40 970.0 L523.20 971.6 M545.42 971.6 L546.22 970.0 L547.02 971.6 M550.79 971.6 L551.59 969.0 L552.39 971.6 M552.93 971.6 L553.73 968.0 L554.53 971.6 M554.37 971.6 L555.17 966.0 L555.97 971.6 M556.76 971.6 L557.56 969.0 L558.36 971.6 M567.22 971.6 L568.02 970.0 L568.82 971.6 M572.56 971.6 L573.36 970.0 L574.16 971.6 M574.42 971.6 L575.22 970.0 L576.02 971.6 M603.55 971.6 L604.35 970.0 L605.15 971.6 M612.89 971.6 L613.69 965.0 L614.49 971.6 M615.76 971.6 L616.56 970.0 L617.36 971.6 M617.64 971.6 L618.44 970.0 L619.24 971.6 M627.36 971.6 L628.16 970.0 L628.96 971.6 M636.92 971.6 L637.72 970.0 L638.52 971.6 M661.55 971.6 L662.35 970.0 L663.15 971.6 M663.41 971.6 L664.21 970.0 L665.01 971.6 M664.35 971.6 L665.15 967.0 L665.95 971.6 M664.99 971.6 L665.79 970.0 L666.59 971.6 M670.12 971.6 L670.92 966.0 L671.72 971.6 M683.36 971.6 L684.16 968.0 L684.96 971.6 M685.13 971.6 L685.93 970.0 L686.73 971.6 M691.46 971.6 L692.26 968.0 L693.06 971.6 M692.12 971.6 L692.92 966.0 L693.72 971.6 M718.82 971.1 L719.62 946.8 L720.42 971.1 M726.87 970.9 L727.67 957.0 L728.47 970.9 M729.32 970.8 L730.12 970.0 L730.92 970.8 M735.49 970.6 L736.29 959.0 L737.09 970.6 M752.03 970.2 L752.83 969.0 L753.63 970.2 M761.00 969.9 L761.80 968.0 L762.60 969.9 M763.45 969.9 L763.80 937.0 L764.15 969.9 M764.09 969.9 L764.89 951.0 L765.69 969.9 M769.37 969.7 L770.17 953.0 L770.97 969.7 M775.39 969.5 L776.19 960.0 L776.99 969.5 M776.82 969.5 L777.62 957.0 L778.42 969.5 M778.26 969.4 L779.06 960.0 L779.86 969.4 M784.63 969.3 L784.98 939.3 L785.33 969.3 M806.75 968.4 L807.55 966.0 L808.35 968.4 M824.08 967.4 L824.88 955.0 L825.68 967.4 M829.13 967.2 L829.93 965.5 L830.73 967.2 M832.96 966.9 L833.76 965.0 L834.56 966.9 M836.43 966.8 L837.23 965.5 L838.03 966.8 M839.54 966.6 L840.34 965.0 L841.14 966.6 M844.25 966.3 L845.05 965.0 L845.85 966.3 M856.04 965.7 L856.84 963.5 L857.64 965.7 M858.25 965.6 L859.05 957.0 L859.85 965.6 M859.79 965.5 L860.59 952.0 L861.39 965.5 M861.34 965.5 L862.14 954.0 L862.94 965.5 M862.89 965.4 L863.69 957.0 L864.49 965.4 M864.44 965.4 L865.24 960.0 L866.04 965.4 M867.35 965.4 L867.70 895.8 L868.05 965.4 M868.44 965.3 L869.24 962.0 L870.04 965.3 M870.31 965.3 L871.11 957.0 L871.91 965.3 M873.81 965.3 L874.16 902.8 L874.51 965.3 M876.85 965.2 L877.20 851.0 L877.55 965.2 M879.21 965.2 L879.56 780.0 L879.91 965.2 M884.09 965.1 L884.89 958.5 L885.69 965.1 M886.72 965.0 L887.07 722.0 L887.42 965.0 M889.47 965.0 L890.27 960.0 L891.07 965.0 M902.05 964.8 L902.40 936.7 L902.75 964.8 M904.87 964.8 L905.67 944.0 L906.47 964.8 M908.80 964.8 L909.15 850.0 L909.50 964.8 M910.91 964.8 L911.71 952.0 L912.51 964.8 M913.32 964.8 L914.12 952.0 L914.92 964.8 M917.85 964.8 L918.20 897.0 L918.55 964.8 M919.64 964.8 L920.44 957.0 L921.24 964.8 M922.68 964.8 L923.48 957.0 L924.28 964.8 M927.55 964.8 L927.90 645.3 L928.25 964.8 M932.00 964.8 L932.80 958.0 L933.60 964.8 M936.97 964.8 L937.32 888.0 L937.67 964.8 M939.62 964.8 L940.42 958.5 L941.22 964.8 M946.58 964.8 L947.38 944.0 L948.18 964.8 M950.82 964.8 L951.62 957.0 L952.42 964.8 M954.99 964.8 L955.79 952.0 L956.59 964.8 M958.50 964.8 L959.30 960.0 L960.10 964.8 M960.71 964.8 L961.51 957.0 L962.31 964.8 M964.94 964.8 L965.74 964.0 L966.54 964.8 M969.95 964.8 L970.75 960.0 L971.55 964.8 M975.79 964.8 L976.59 957.0 L977.39 964.8 M977.50 964.8 L978.30 960.0 L979.10 964.8 M983.28 964.8 L984.08 957.0 L984.88 964.8 M988.90 964.8 L989.70 954.7 L990.50 964.8 M1002.78 966.6 L1003.58 963.0 L1004.38 966.6" fill="none" stroke="#888" stroke-width="1.1"/>
<path d="M152.2 971.6 L154.2 260.5 L154.6 260.5 L154.8 955.0 Q155.3 970.1 159.4 971.0 L179.4 971.6" fill="none" stroke="#b0b0b0" stroke-width="1.3"/>
<path d="M114.4 968.6 V983.1 M111.6 975.8 L114.4 971.6 L117.2 975.8 M152.2 968.6 V983.1 M149.4 975.8 L152.2 971.6 L155.0 975.8 M206.6 968.6 V983.1 M203.8 975.8 L206.6 971.6 L209.4 975.8 M207.6 968.6 V983.1 M204.8 975.8 L207.6 971.6 L210.4 975.8 M213.4 968.6 V983.1 M210.6 975.8 L213.4 971.6 L216.2 975.8 M218.9 968.6 V983.1 M216.1 975.8 L218.9 971.6 L221.7 975.8 M221.0 968.6 V983.1 M218.2 975.8 L221.0 971.6 L223.8 975.8 M227.5 968.6 V983.1 M224.7 975.8 L227.5 971.6 L230.3 975.8 M265.4 968.6 V983.1 M262.6 975.8 L265.4 971.6 L268.2 975.8 M266.8 968.6 V983.1 M264.0 975.8 L266.8 971.6 L269.6 975.8 M278.5 968.6 V983.1 M275.7 975.8 L278.5 971.6 L281.3 975.8 M288.5 968.6 V983.1 M285.7 975.8 L288.5 971.6 L291.3 975.8 M298.4 968.6 V983.1 M295.6 975.8 L298.4 971.6 L301.2 975.8 M305.0 968.6 V983.1 M302.2 975.8 L305.0 971.6 L307.8 975.8 M314.2 968.6 V983.1 M311.4 975.8 L314.2 971.6 L317.0 975.8 M325.3 968.6 V983.1 M322.5 975.8 L325.3 971.6 L328.1 975.8 M332.9 968.6 V983.1 M330.1 975.8 L332.9 971.6 L335.7 975.8 M334.1 968.6 V983.1 M331.3 975.8 L334.1 971.6 L336.9 975.8 M353.3 968.6 V983.1 M350.5 975.8 L353.3 971.6 L356.1 975.8 M397.1 968.6 V983.1 M394.3 975.8 L397.1 971.6 L399.9 975.8 M405.1 968.6 V983.1 M402.3 975.8 L405.1 971.6 L407.9 975.8 M410.9 968.6 V983.1 M408.1 975.8 L410.9 971.6 L413.7 975.8 M414.1 968.6 V983.1 M411.3 975.8 L414.1 971.6 L416.9 975.8 M419.5 968.6 V983.1 M416.7 975.8 L419.5 971.6 L422.3 975.8 M451.8 968.6 V983.1 M449.0 975.8 L451.8 971.6 L454.6 975.8 M458.2 968.6 V983.1 M455.4 975.8 L458.2 971.6 L461.0 975.8 M478.3 968.6 V983.1 M475.5 975.8 L478.3 971.6 L481.1 975.8 M487.6 968.6 V983.1 M484.8 975.8 L487.6 971.6 L490.4 975.8 M512.6 968.6 V983.1 M509.8 975.8 L512.6 971.6 L515.4 975.8 M521.8 968.6 V983.1 M519.0 975.8 L521.8 971.6 L524.6 975.8 M545.6 968.6 V983.1 M542.8 975.8 L545.6 971.6 L548.4 975.8 M551.0 968.6 V983.1 M548.2 975.8 L551.0 971.6 L553.8 975.8 M553.1 968.6 V983.1 M550.3 975.8 L553.1 971.6 L555.9 975.8 M554.6 968.6 V983.1 M551.8 975.8 L554.6 971.6 L557.4 975.8 M557.0 968.6 V983.1 M554.2 975.8 L557.0 971.6 L559.8 975.8 M567.4 968.6 V983.1 M564.6 975.8 L567.4 971.6 L570.2 975.8 M572.8 968.6 V983.1 M570.0 975.8 L572.8 971.6 L575.6 975.8 M574.6 968.6 V983.1 M571.8 975.8 L574.6 971.6 L577.4 975.8 M603.8 968.6 V983.1 M601.0 975.8 L603.8 971.6 L606.6 975.8 M613.1 968.6 V983.1 M610.3 975.8 L613.1 971.6 L615.9 975.8 M616.0 968.6 V983.1 M613.2 975.8 L616.0 971.6 L618.8 975.8 M617.8 968.6 V983.1 M615.0 975.8 L617.8 971.6 L620.6 975.8 M627.6 968.6 V983.1 M624.8 975.8 L627.6 971.6 L630.4 975.8 M637.1 968.6 V983.1 M634.3 975.8 L637.1 971.6 L639.9 975.8 M661.7 968.6 V983.1 M658.9 975.8 L661.7 971.6 L664.5 975.8 M663.6 968.6 V983.1 M660.8 975.8 L663.6 971.6 L666.4 975.8 M664.5 968.6 V983.1 M661.7 975.8 L664.5 971.6 L667.3 975.8 M665.2 968.6 V983.1 M662.4 975.8 L665.2 971.6 L668.0 975.8 M670.3 968.6 V983.1 M667.5 975.8 L670.3 971.6 L673.1 975.8 M683.6 968.6 V983.1 M680.8 975.8 L683.6 971.6 L686.4 975.8 M685.3 968.6 V983.1 M682.5 975.8 L685.3 971.6 L688.1 975.8 M691.7 968.6 V983.1 M688.9 975.8 L691.7 971.6 L694.5 975.8 M692.3 968.6 V983.1 M689.5 975.8 L692.3 971.6 L695.1 975.8 M719.0 968.1 V982.6 M716.2 975.3 L719.0 971.1 L721.8 975.3 M727.1 967.9 V982.4 M724.3 975.1 L727.1 970.9 L729.9 975.1 M729.5 967.8 V982.3 M726.7 975.0 L729.5 970.8 L732.3 975.0 M735.7 967.6 V982.1 M732.9 974.8 L735.7 970.6 L738.5 974.8 M752.2 967.2 V981.7 M749.4 974.4 L752.2 970.2 L755.0 974.4 M761.2 967.0 V981.5 M758.4 974.2 L761.2 970.0 L764.0 974.2 M763.2 966.9 V981.4 M760.4 974.1 L763.2 969.9 L766.0 974.1 M764.3 966.9 V981.4 M761.5 974.1 L764.3 969.9 L767.1 974.1 M769.6 966.7 V981.2 M766.8 973.9 L769.6 969.7 L772.4 973.9 M775.6 966.5 V981.0 M772.8 973.7 L775.6 969.5 L778.4 973.7 M777.0 966.5 V981.0 M774.2 973.7 L777.0 969.5 L779.8 973.7 M778.5 966.4 V980.9 M775.7 973.6 L778.5 969.4 L781.3 973.6 M784.4 966.3 V980.8 M781.6 973.5 L784.4 969.3 L787.2 973.5 M806.9 965.4 V979.9 M804.1 972.6 L806.9 968.4 L809.7 972.6 M824.3 964.5 V979.0 M821.5 971.7 L824.3 967.5 L827.1 971.7 M829.3 964.2 V978.7 M826.5 971.4 L829.3 967.2 L832.1 971.4 M833.2 964.0 V978.5 M830.4 971.2 L833.2 967.0 L836.0 971.2 M836.6 963.8 V978.3 M833.8 971.0 L836.6 966.8 L839.4 971.0 M839.7 963.6 V978.1 M836.9 970.8 L839.7 966.6 L842.5 970.8 M844.4 963.4 V977.9 M841.6 970.6 L844.4 966.4 L847.2 970.6 M856.2 962.7 V977.2 M853.4 969.9 L856.2 965.7 L859.0 969.9 M858.5 962.6 V977.1 M855.7 969.8 L858.5 965.6 L861.3 969.8 M860.0 962.5 V977.0 M857.2 969.7 L860.0 965.5 L862.8 969.7 M861.5 962.5 V977.0 M858.7 969.7 L861.5 965.5 L864.3 969.7 M863.1 962.4 V976.9 M860.3 969.6 L863.1 965.4 L865.9 969.6 M864.6 962.4 V976.9 M861.8 969.6 L864.6 965.4 L867.4 969.6 M867.1 962.4 V976.9 M864.3 969.6 L867.1 965.4 L869.9 969.6 M868.6 962.3 V976.8 M865.8 969.5 L868.6 965.3 L871.4 969.5 M870.5 962.3 V976.8 M867.7 969.5 L870.5 965.3 L873.3 969.5 M873.6 962.3 V976.8 M870.8 969.5 L873.6 965.3 L876.4 969.5 M876.6 962.2 V976.7 M873.8 969.4 L876.6 965.2 L879.4 969.4 M879.0 962.2 V976.7 M876.2 969.4 L879.0 965.2 L881.8 969.4 M884.3 962.1 V976.6 M881.5 969.3 L884.3 965.1 L887.1 969.3 M886.5 962.0 V976.5 M883.7 969.2 L886.5 965.0 L889.3 969.2 M889.7 962.0 V976.5 M886.9 969.2 L889.7 965.0 L892.5 969.2 M901.8 961.8 V976.3 M899.0 969.0 L901.8 964.8 L904.6 969.0 M905.1 961.8 V976.3 M902.3 969.0 L905.1 964.8 L907.9 969.0 M908.5 961.8 V976.3 M905.7 969.0 L908.5 964.8 L911.3 969.0 M911.1 961.8 V976.3 M908.3 969.0 L911.1 964.8 L913.9 969.0 M913.5 961.8 V976.3 M910.7 969.0 L913.5 964.8 L916.3 969.0 M917.6 961.8 V976.3 M914.8 969.0 L917.6 964.8 L920.4 969.0 M919.8 961.8 V976.3 M917.0 969.0 L919.8 964.8 L922.6 969.0 M922.9 961.8 V976.3 M920.1 969.0 L922.9 964.8 L925.7 969.0 M927.3 961.8 V976.3 M924.5 969.0 L927.3 964.8 L930.1 969.0 M932.2 961.8 V976.3 M929.4 969.0 L932.2 964.8 L935.0 969.0 M936.7 961.8 V976.3 M933.9 969.0 L936.7 964.8 L939.5 969.0 M939.8 961.8 V976.3 M937.0 969.0 L939.8 964.8 L942.6 969.0 M946.8 961.8 V976.3 M944.0 969.0 L946.8 964.8 L949.6 969.0 M951.0 961.8 V976.3 M948.2 969.0 L951.0 964.8 L953.8 969.0 M955.2 961.8 V976.3 M952.4 969.0 L955.2 964.8 L958.0 969.0 M958.7 961.8 V976.3 M955.9 969.0 L958.7 964.8 L961.5 969.0 M960.9 961.8 V976.3 M958.1 969.0 L960.9 964.8 L963.7 969.0 M965.1 961.8 V976.3 M962.3 969.0 L965.1 964.8 L967.9 969.0 M970.1 961.8 V976.3 M967.3 969.0 L970.1 964.8 L972.9 969.0 M976.0 961.8 V976.3 M973.2 969.0 L976.0 964.8 L978.8 969.0 M977.7 961.8 V976.3 M974.9 969.0 L977.7 964.8 L980.5 969.0 M983.5 961.8 V976.3 M980.7 969.0 L983.5 964.8 L986.3 969.0 M989.1 961.8 V976.3 M986.3 969.0 L989.1 964.8 L991.9 969.0 M1003.0 963.6 V978.1 M1000.2 970.8 L1003.0 966.6 L1005.8 970.8" fill="none" stroke="#9a9a9a" stroke-width="0.9"/>
<path d="M115.8 967.6 V971.6 M113.3 967.6 L115.8 971.6 L118.3 967.6 M158.6 960.1 V970.1 M156.1 966.1 L158.6 970.1 L161.1 966.1 M208.0 967.6 V971.6 M205.5 967.6 L208.0 971.6 L210.5 967.6 M209.0 967.6 V971.6 M206.5 967.6 L209.0 971.6 L211.5 967.6 M214.8 967.6 V971.6 M212.3 967.6 L214.8 971.6 L217.3 967.6 M220.3 967.6 V971.6 M217.8 967.6 L220.3 971.6 L222.8 967.6 M222.4 967.6 V971.6 M219.9 967.6 L222.4 971.6 L224.9 967.6 M228.9 967.6 V971.6 M226.4 967.6 L228.9 971.6 L231.4 967.6 M266.8 967.6 V971.6 M264.3 967.6 L266.8 971.6 L269.3 967.6 M268.2 967.6 V971.6 M265.7 967.6 L268.2 971.6 L270.7 967.6 M279.9 967.6 V971.6 M277.4 967.6 L279.9 971.6 L282.4 967.6 M289.9 967.6 V971.6 M287.4 967.6 L289.9 971.6 L292.4 967.6 M299.8 967.6 V971.6 M297.3 967.6 L299.8 971.6 L302.3 967.6 M306.4 967.6 V971.6 M303.9 967.6 L306.4 971.6 L308.9 967.6 M315.6 967.6 V971.6 M313.1 967.6 L315.6 971.6 L318.1 967.6 M326.7 967.6 V971.6 M324.2 967.6 L326.7 971.6 L329.2 967.6 M334.3 967.6 V971.6 M331.8 967.6 L334.3 971.6 L336.8 967.6 M335.5 967.6 V971.6 M333.0 967.6 L335.5 971.6 L338.0 967.6 M354.7 967.6 V971.6 M352.2 967.6 L354.7 971.6 L357.2 967.6 M398.5 967.6 V971.6 M396.0 967.6 L398.5 971.6 L401.0 967.6 M406.5 967.6 V971.6 M404.0 967.6 L406.5 971.6 L409.0 967.6 M412.3 967.6 V971.6 M409.8 967.6 L412.3 971.6 L414.8 967.6 M415.5 967.6 V971.6 M413.0 967.6 L415.5 971.6 L418.0 967.6 M420.9 967.6 V971.6 M418.4 967.6 L420.9 971.6 L423.4 967.6 M453.2 967.6 V971.6 M450.7 967.6 L453.2 971.6 L455.7 967.6 M459.6 967.6 V971.6 M457.1 967.6 L459.6 971.6 L462.1 967.6 M479.7 967.6 V971.6 M477.2 967.6 L479.7 971.6 L482.2 967.6 M489.0 967.6 V971.6 M486.5 967.6 L489.0 971.6 L491.5 967.6 M514.0 967.6 V971.6 M511.5 967.6 L514.0 971.6 L516.5 967.6 M523.2 967.6 V971.6 M520.7 967.6 L523.2 971.6 L525.7 967.6 M547.0 967.6 V971.6 M544.5 967.6 L547.0 971.6 L549.5 967.6 M552.4 967.6 V971.6 M549.9 967.6 L552.4 971.6 L554.9 967.6 M554.5 967.6 V971.6 M552.0 967.6 L554.5 971.6 L557.0 967.6 M556.0 967.6 V971.6 M553.5 967.6 L556.0 971.6 L558.5 967.6 M558.4 967.6 V971.6 M555.9 967.6 L558.4 971.6 L560.9 967.6 M568.8 967.6 V971.6 M566.3 967.6 L568.8 971.6 L571.3 967.6 M574.2 967.6 V971.6 M571.7 967.6 L574.2 971.6 L576.7 967.6 M576.0 967.6 V971.6 M573.5 967.6 L576.0 971.6 L578.5 967.6 M605.2 967.6 V971.6 M602.7 967.6 L605.2 971.6 L607.7 967.6 M614.5 967.6 V971.6 M612.0 967.6 L614.5 971.6 L617.0 967.6 M617.4 967.6 V971.6 M614.9 967.6 L617.4 971.6 L619.9 967.6 M619.2 967.6 V971.6 M616.7 967.6 L619.2 971.6 L621.7 967.6 M629.0 967.6 V971.6 M626.5 967.6 L629.0 971.6 L631.5 967.6 M638.5 967.6 V971.6 M636.0 967.6 L638.5 971.6 L641.0 967.6 M663.1 967.6 V971.6 M660.6 967.6 L663.1 971.6 L665.6 967.6 M665.0 967.6 V971.6 M662.5 967.6 L665.0 971.6 L667.5 967.6 M665.9 967.6 V971.6 M663.4 967.6 L665.9 971.6 L668.4 967.6 M666.6 967.6 V971.6 M664.1 967.6 L666.6 971.6 L669.1 967.6 M671.7 967.6 V971.6 M669.2 967.6 L671.7 971.6 L674.2 967.6 M685.0 967.6 V971.6 M682.5 967.6 L685.0 971.6 L687.5 967.6 M686.7 967.6 V971.6 M684.2 967.6 L686.7 971.6 L689.2 967.6 M693.1 967.6 V971.6 M690.6 967.6 L693.1 971.6 L695.6 967.6 M693.7 967.6 V971.6 M691.2 967.6 L693.7 971.6 L696.2 967.6 M720.4 967.1 V971.1 M717.9 967.1 L720.4 971.1 L722.9 967.1 M728.5 966.8 V970.8 M726.0 966.8 L728.5 970.8 L731.0 966.8 M730.9 966.8 V970.8 M728.4 966.8 L730.9 970.8 L733.4 966.8 M737.1 966.6 V970.6 M734.6 966.6 L737.1 970.6 L739.6 966.6 M753.6 966.2 V970.2 M751.1 966.2 L753.6 970.2 L756.1 966.2 M762.6 965.9 V969.9 M760.1 965.9 L762.6 969.9 L765.1 965.9 M764.6 965.9 V969.9 M762.1 965.9 L764.6 969.9 L767.1 965.9 M765.7 965.8 V969.8 M763.2 965.8 L765.7 969.8 L768.2 965.8 M771.0 965.7 V969.7 M768.5 965.7 L771.0 969.7 L773.5 965.7 M777.0 965.5 V969.5 M774.5 965.5 L777.0 969.5 L779.5 965.5 M778.4 965.4 V969.4 M775.9 965.4 L778.4 969.4 L780.9 965.4 M779.9 965.4 V969.4 M777.4 965.4 L779.9 969.4 L782.4 965.4 M785.8 965.2 V969.2 M783.3 965.2 L785.8 969.2 L788.3 965.2 M808.3 964.3 V968.3 M805.8 964.3 L808.3 968.3 L810.8 964.3 M825.7 963.4 V967.4 M823.2 963.4 L825.7 967.4 L828.2 963.4 M830.7 963.1 V967.1 M828.2 963.1 L830.7 967.1 L833.2 963.1 M834.6 962.9 V966.9 M832.1 962.9 L834.6 966.9 L837.1 962.9 M838.0 962.7 V966.7 M835.5 962.7 L838.0 966.7 L840.5 962.7 M841.1 962.5 V966.5 M838.6 962.5 L841.1 966.5 L843.6 962.5 M845.8 962.3 V966.3 M843.3 962.3 L845.8 966.3 L848.3 962.3 M857.6 961.6 V965.6 M855.1 961.6 L857.6 965.6 L860.1 961.6 M859.9 961.5 V965.5 M857.4 961.5 L859.9 965.5 L862.4 961.5 M861.4 961.5 V965.5 M858.9 961.5 L861.4 965.5 L863.9 961.5 M862.9 961.4 V965.4 M860.4 961.4 L862.9 965.4 L865.4 961.4 M864.5 961.4 V965.4 M862.0 961.4 L864.5 965.4 L867.0 961.4 M866.0 961.4 V965.4 M863.5 961.4 L866.0 965.4 L868.5 961.4 M868.5 961.4 V965.4 M866.0 961.4 L868.5 965.4 L871.0 961.4 M870.0 961.3 V965.3 M867.5 961.3 L870.0 965.3 L872.5 961.3 M871.9 961.3 V965.3 M869.4 961.3 L871.9 965.3 L874.4 961.3 M875.0 961.2 V965.2 M872.5 961.2 L875.0 965.2 L877.5 961.2 M878.0 961.2 V965.2 M875.5 961.2 L878.0 965.2 L880.5 961.2 M880.4 961.1 V965.1 M877.9 961.1 L880.4 965.1 L882.9 961.1 M885.7 961.1 V965.1 M883.2 961.1 L885.7 965.1 L888.2 961.1 M887.9 961.0 V965.0 M885.4 961.0 L887.9 965.0 L890.4 961.0 M891.1 961.0 V965.0 M888.6 961.0 L891.1 965.0 L893.6 961.0 M903.2 960.8 V964.8 M900.7 960.8 L903.2 964.8 L905.7 960.8 M906.5 960.8 V964.8 M904.0 960.8 L906.5 964.8 L909.0 960.8 M909.9 960.8 V964.8 M907.4 960.8 L909.9 964.8 L912.4 960.8 M912.5 960.8 V964.8 M910.0 960.8 L912.5 964.8 L915.0 960.8 M914.9 960.8 V964.8 M912.4 960.8 L914.9 964.8 L917.4 960.8 M919.0 960.8 V964.8 M916.5 960.8 L919.0 964.8 L921.5 960.8 M921.2 960.8 V964.8 M918.7 960.8 L921.2 964.8 L923.7 960.8 M924.3 960.8 V964.8 M921.8 960.8 L924.3 964.8 L926.8 960.8 M928.7 960.8 V964.8 M926.2 960.8 L928.7 964.8 L931.2 960.8 M933.6 960.8 V964.8 M931.1 960.8 L933.6 964.8 L936.1 960.8 M938.1 960.8 V964.8 M935.6 960.8 L938.1 964.8 L940.6 960.8 M941.2 960.8 V964.8 M938.7 960.8 L941.2 964.8 L943.7 960.8 M948.2 960.8 V964.8 M945.7 960.8 L948.2 964.8 L950.7 960.8 M952.4 960.8 V964.8 M949.9 960.8 L952.4 964.8 L954.9 960.8 M956.6 960.8 V964.8 M954.1 960.8 L956.6 964.8 L959.1 960.8 M960.1 960.8 V964.8 M957.6 960.8 L960.1 964.8 L962.6 960.8 M962.3 960.8 V964.8 M959.8 960.8 L962.3 964.8 L964.8 960.8 M966.5 960.8 V964.8 M964.0 960.8 L966.5 964.8 L969.0 960.8 M971.5 960.8 V964.8 M969.0 960.8 L971.5 964.8 L974.0 960.8 M977.4 960.8 V964.8 M974.9 960.8 L977.4 964.8 L979.9 960.8 M979.1 960.8 V964.8 M976.6 960.8 L979.1 964.8 L981.6 960.8 M984.9 960.8 V964.8 M982.4 960.8 L984.9 964.8 L987.4 960.8 M990.5 960.9 V964.9 M988.0 960.9 L990.5 964.9 L993.0 960.9 M1004.4 962.6 V966.6 M1001.9 962.6 L1004.4 966.6 L1006.9 962.6" fill="none" stroke="#9a9a9a" stroke-width="0.8"/>
<g class="lb"><text transform="translate(119.0 969.2) rotate(-90) scale(0.9 1)">20.916</text><text transform="translate(170.9 291.2) rotate(-90) scale(0.9 1)">26.488</text><text transform="translate(211.2 924.0) rotate(-90) scale(0.9 1)">33.952</text><text transform="translate(212.2 764.6) rotate(-90) scale(0.9 1)">34.103</text><text transform="translate(218.0 969.2) rotate(-90) scale(0.9 1)">34.921</text><text transform="translate(223.5 867.4) rotate(-90) scale(0.9 1)">35.698</text><text transform="translate(225.6 969.2) rotate(-90) scale(0.9 1)">35.993</text><text transform="translate(232.1 969.2) rotate(-90) scale(0.9 1)">36.914</text><text transform="translate(270.0 969.2) rotate(-90) scale(0.9 1)">42.278</text><text transform="translate(271.4 941.2) rotate(-90) scale(0.9 1)">42.468</text><text transform="translate(283.1 969.2) rotate(-90) scale(0.9 1)">44.134</text><text transform="translate(293.1 964.2) rotate(-90) scale(0.9 1)">45.543</text><text transform="translate(303.0 968.2) rotate(-90) scale(0.9 1)">46.945</text><text transform="translate(309.6 969.2) rotate(-90) scale(0.9 1)">47.876</text><text transform="translate(318.8 969.2) rotate(-90) scale(0.9 1)">49.180</text><text transform="translate(329.9 963.2) rotate(-90) scale(0.9 1)">50.744</text><text transform="translate(337.5 969.2) rotate(-90) scale(0.9 1)">51.831</text><text transform="translate(338.7 969.2) rotate(-90) scale(0.9 1)">51.989</text><text transform="translate(357.9 969.2) rotate(-90) scale(0.9 1)">54.713</text><text transform="translate(401.7 969.2) rotate(-90) scale(0.9 1)">60.902</text><text transform="translate(409.7 969.2) rotate(-90) scale(0.9 1)">62.031</text><text transform="translate(415.5 969.2) rotate(-90) scale(0.9 1)">62.859</text><text transform="translate(418.7 953.2) rotate(-90) scale(0.9 1)">63.314</text><text transform="translate(424.1 962.2) rotate(-90) scale(0.9 1)">64.077</text><text transform="translate(456.4 969.2) rotate(-90) scale(0.9 1)">68.640</text><text transform="translate(462.8 968.2) rotate(-90) scale(0.9 1)">69.549</text><text transform="translate(482.9 910.6) rotate(-90) scale(0.9 1)">72.393</text><text transform="translate(492.2 910.6) rotate(-90) scale(0.9 1)">73.714</text><text transform="translate(517.2 969.2) rotate(-90) scale(0.9 1)">77.251</text><text transform="translate(526.4 969.2) rotate(-90) scale(0.9 1)">78.547</text><text transform="translate(550.2 969.2) rotate(-90) scale(0.9 1)">81.916</text><text transform="translate(555.6 968.2) rotate(-90) scale(0.9 1)">82.676</text><text transform="translate(557.7 967.2) rotate(-90) scale(0.9 1)">82.979</text><text transform="translate(559.2 965.2) rotate(-90) scale(0.9 1)">83.182</text><text transform="translate(561.6 968.2) rotate(-90) scale(0.9 1)">83.520</text><text transform="translate(572.0 969.2) rotate(-90) scale(0.9 1)">85.000</text><text transform="translate(577.4 969.2) rotate(-90) scale(0.9 1)">85.755</text><text transform="translate(579.2 969.2) rotate(-90) scale(0.9 1)">86.018</text><text transform="translate(608.4 969.2) rotate(-90) scale(0.9 1)">90.140</text><text transform="translate(617.7 964.2) rotate(-90) scale(0.9 1)">91.460</text><text transform="translate(620.6 969.2) rotate(-90) scale(0.9 1)">91.867</text><text transform="translate(622.4 969.2) rotate(-90) scale(0.9 1)">92.133</text><text transform="translate(632.2 969.2) rotate(-90) scale(0.9 1)">93.507</text><text transform="translate(641.7 969.2) rotate(-90) scale(0.9 1)">94.860</text><text transform="translate(666.3 969.2) rotate(-90) scale(0.9 1)">98.344</text><text transform="translate(668.2 969.2) rotate(-90) scale(0.9 1)">98.607</text><text transform="translate(669.1 966.2) rotate(-90) scale(0.9 1)">98.740</text><text transform="translate(669.8 969.2) rotate(-90) scale(0.9 1)">98.831</text><text transform="translate(674.9 965.2) rotate(-90) scale(0.9 1)">99.556</text><text transform="translate(688.2 967.2) rotate(-90) scale(0.9 1)">101.430</text><text transform="translate(689.9 969.2) rotate(-90) scale(0.9 1)">101.680</text><text transform="translate(696.3 967.2) rotate(-90) scale(0.9 1)">102.575</text><text transform="translate(696.9 965.2) rotate(-90) scale(0.9 1)">102.668</text><text transform="translate(723.6 946.0) rotate(-90) scale(0.9 1)">106.446</text><text transform="translate(731.7 956.2) rotate(-90) scale(0.9 1)">107.585</text><text transform="translate(734.1 969.2) rotate(-90) scale(0.9 1)">107.931</text><text transform="translate(740.3 958.2) rotate(-90) scale(0.9 1)">108.804</text><text transform="translate(756.8 968.2) rotate(-90) scale(0.9 1)">111.144</text><text transform="translate(765.8 967.2) rotate(-90) scale(0.9 1)">112.412</text><text transform="translate(767.8 936.2) rotate(-90) scale(0.9 1)">112.695</text><text transform="translate(768.9 950.2) rotate(-90) scale(0.9 1)">112.850</text><text transform="translate(774.2 952.2) rotate(-90) scale(0.9 1)">113.597</text><text transform="translate(780.2 959.2) rotate(-90) scale(0.9 1)">114.449</text><text transform="translate(781.6 956.2) rotate(-90) scale(0.9 1)">114.651</text><text transform="translate(783.1 959.2) rotate(-90) scale(0.9 1)">114.855</text><text transform="translate(789.0 938.5) rotate(-90) scale(0.9 1)">115.692</text><text transform="translate(811.5 965.2) rotate(-90) scale(0.9 1)">118.884</text><text transform="translate(828.9 954.2) rotate(-90) scale(0.9 1)">121.336</text><text transform="translate(833.9 964.7) rotate(-90) scale(0.9 1)">122.050</text><text transform="translate(837.8 964.2) rotate(-90) scale(0.9 1)">122.593</text><text transform="translate(841.2 964.7) rotate(-90) scale(0.9 1)">123.083</text><text transform="translate(844.3 964.2) rotate(-90) scale(0.9 1)">123.523</text><text transform="translate(849.0 964.2) rotate(-90) scale(0.9 1)">124.189</text><text transform="translate(860.8 962.7) rotate(-90) scale(0.9 1)">125.857</text><text transform="translate(863.1 956.2) rotate(-90) scale(0.9 1)">126.170</text><text transform="translate(864.6 951.2) rotate(-90) scale(0.9 1)">126.388</text><text transform="translate(866.1 953.2) rotate(-90) scale(0.9 1)">126.607</text><text transform="translate(867.7 956.2) rotate(-90) scale(0.9 1)">126.826</text><text transform="translate(869.2 959.2) rotate(-90) scale(0.9 1)">127.045</text><text transform="translate(871.7 895.0) rotate(-90) scale(0.9 1)">127.393</text><text transform="translate(873.2 961.2) rotate(-90) scale(0.9 1)">127.612</text><text transform="translate(875.1 956.2) rotate(-90) scale(0.9 1)">127.876</text><text transform="translate(878.2 902.0) rotate(-90) scale(0.9 1)">128.308</text><text transform="translate(881.2 850.2) rotate(-90) scale(0.9 1)">128.737</text><text transform="translate(883.6 779.2) rotate(-90) scale(0.9 1)">129.071</text><text transform="translate(888.9 957.7) rotate(-90) scale(0.9 1)">129.826</text><text transform="translate(891.1 721.2) rotate(-90) scale(0.9 1)">130.134</text><text transform="translate(894.3 959.2) rotate(-90) scale(0.9 1)">130.586</text><text transform="translate(906.4 935.9) rotate(-90) scale(0.9 1)">132.303</text><text transform="translate(909.7 943.2) rotate(-90) scale(0.9 1)">132.765</text><text transform="translate(913.1 849.2) rotate(-90) scale(0.9 1)">133.257</text><text transform="translate(915.7 951.2) rotate(-90) scale(0.9 1)">133.620</text><text transform="translate(918.1 951.2) rotate(-90) scale(0.9 1)">133.960</text><text transform="translate(922.2 896.2) rotate(-90) scale(0.9 1)">134.538</text><text transform="translate(924.4 956.2) rotate(-90) scale(0.9 1)">134.855</text><text transform="translate(927.5 956.2) rotate(-90) scale(0.9 1)">135.285</text><text transform="translate(931.9 644.5) rotate(-90) scale(0.9 1)">135.910</text><text transform="translate(936.8 957.2) rotate(-90) scale(0.9 1)">136.603</text><text transform="translate(941.3 887.2) rotate(-90) scale(0.9 1)">137.242</text><text transform="translate(944.4 957.7) rotate(-90) scale(0.9 1)">137.681</text><text transform="translate(951.4 943.2) rotate(-90) scale(0.9 1)">138.666</text><text transform="translate(955.6 956.2) rotate(-90) scale(0.9 1)">139.265</text><text transform="translate(959.8 951.2) rotate(-90) scale(0.9 1)">139.855</text><text transform="translate(963.3 959.2) rotate(-90) scale(0.9 1)">140.351</text><text transform="translate(965.5 956.2) rotate(-90) scale(0.9 1)">140.664</text><text transform="translate(969.7 963.2) rotate(-90) scale(0.9 1)">141.263</text><text transform="translate(974.7 959.2) rotate(-90) scale(0.9 1)">141.971</text><text transform="translate(980.6 956.2) rotate(-90) scale(0.9 1)">142.797</text><text transform="translate(982.3 959.2) rotate(-90) scale(0.9 1)">143.039</text><text transform="translate(988.1 956.2) rotate(-90) scale(0.9 1)">143.857</text><text transform="translate(993.7 953.9) rotate(-90) scale(0.9 1)">144.652</text><text transform="translate(1007.6 962.2) rotate(-90) scale(0.9 1)">146.615</text></g>
</svg></body></html>
